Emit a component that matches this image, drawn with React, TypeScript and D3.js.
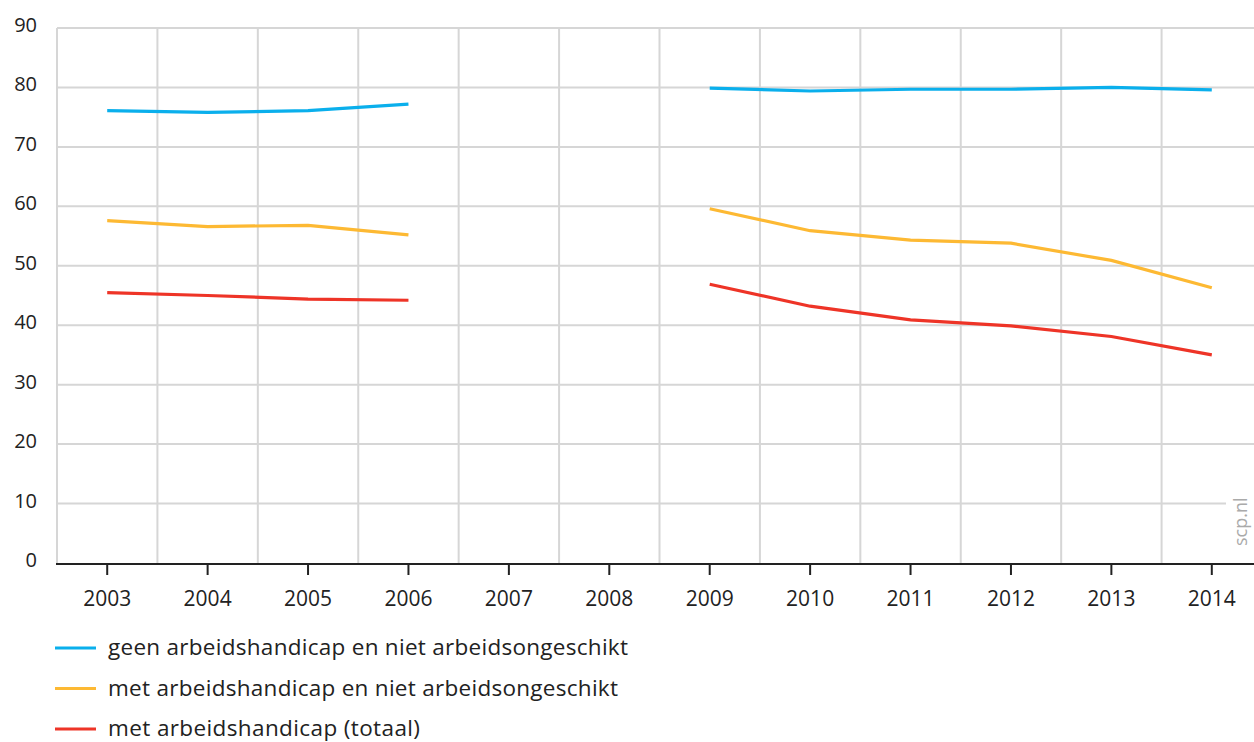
import React from "react";
import * as d3 from "d3";

const years = ["2003","2004","2005","2006","2007","2008","2009","2010","2011","2012","2013","2014"];
const yTicks = [0,10,20,30,40,50,60,70,80,90];
const geen: (number|null)[] = [76.1,75.8,76.1,77.2,null,null,79.9,79.4,79.7,79.7,80.0,79.6];
const metNiet: (number|null)[] = [57.6,56.6,56.8,55.2,null,null,59.6,55.9,54.3,53.8,50.9,46.3];
const metTotaal: (number|null)[] = [45.5,45.0,44.4,44.2,null,null,46.9,43.2,40.9,39.9,38.1,35.0];
const seriesNames = [
  "geen arbeidshandicap en niet arbeidsongeschikt",
  "met arbeidshandicap en niet arbeidsongeschikt",
  "met arbeidshandicap (totaal)",
];
const seriesColors = ["#0aafec", "#fdb933", "#ee3427"];
const seriesData = [geen, metNiet, metTotaal];
const legendLengths = [520, 510, 312];

export default function App() {
  const W = 1254, H = 742;
  const x = d3.scaleBand<string>().domain(years).range([57, 1262]);
  const y = d3.scaleLinear().domain([0, 90]).range([563, 28]);
  const cx = (yr: string) => (x(yr) as number) + x.bandwidth() / 2;
  const font = "'Open Sans', sans-serif";
  const line = d3.line<number|null>()
    .defined(d => d !== null)
    .x((_, i) => cx(years[i]))
    .y(d => y(d as number));
  return (
    <svg width={W} height={H} style={{ position: "absolute", left: 0, top: 0, background: "#fff" }} fontFamily={font}>
      <defs>
        <clipPath id="clip"><rect x={0} y={0} width={W} height={H} /></clipPath>
      </defs>
      <g clipPath="url(#clip)">
        {yTicks.filter(t => t > 0).map(t => (
          <line key={"h" + t} x1={57} x2={t === 10 ? 1226 : W} y1={y(t)} y2={y(t)} stroke="#d6d6d6" strokeWidth={2} />
        ))}
        {years.map((yr, i) => i === 0 ? null : (
          <line key={"v" + yr} x1={x(yr)} x2={x(yr)} y1={y(90)} y2={y(0)} stroke="#d6d6d6" strokeWidth={2} />
        ))}
        <line x1={57} x2={57} y1={y(90)} y2={y(0)} stroke="#d6d6d6" strokeWidth={2} />
        {seriesData.map((d, i) => (
          <path key={"s" + i} d={line(d) || ""} fill="none" stroke={seriesColors[i]} strokeWidth={3.2} />
        ))}
        <line x1={56} x2={W} y1={y(0) + 1} y2={y(0) + 1} stroke="#222" strokeWidth={2} />
        {years.map(yr => (
          <line key={"t" + yr} x1={cx(yr)} x2={cx(yr)} y1={y(0)} y2={y(0) + 12} stroke="#222" strokeWidth={2} />
        ))}
        {years.map(yr => (
          <text key={"xl" + yr} x={cx(yr)} y={606} textAnchor="middle" fontSize={21} fill="#222">{yr}</text>
        ))}
        {yTicks.map(t => (
          <text key={"yl" + t} x={37} y={y(t) + 4} textAnchor="end" fontSize={20} fill="#222">{t}</text>
        ))}
        <text transform={`translate(1247, 546) rotate(-90)`} fontSize={18} fill="#aaa">scp.nl</text>
        {seriesNames.map((n, i) => (
          <g key={"lg" + i} transform={`translate(0, ${648 + i * 40.5})`}>
            <line x1={55} x2={96} y1={0} y2={0} stroke={seriesColors[i]} strokeWidth={3.2} />
            <text x={108} y={7} fontSize={22.5} fill="#222" textLength={legendLengths[i]}>{n}</text>
          </g>
        ))}
      </g>
    </svg>
  );
}
